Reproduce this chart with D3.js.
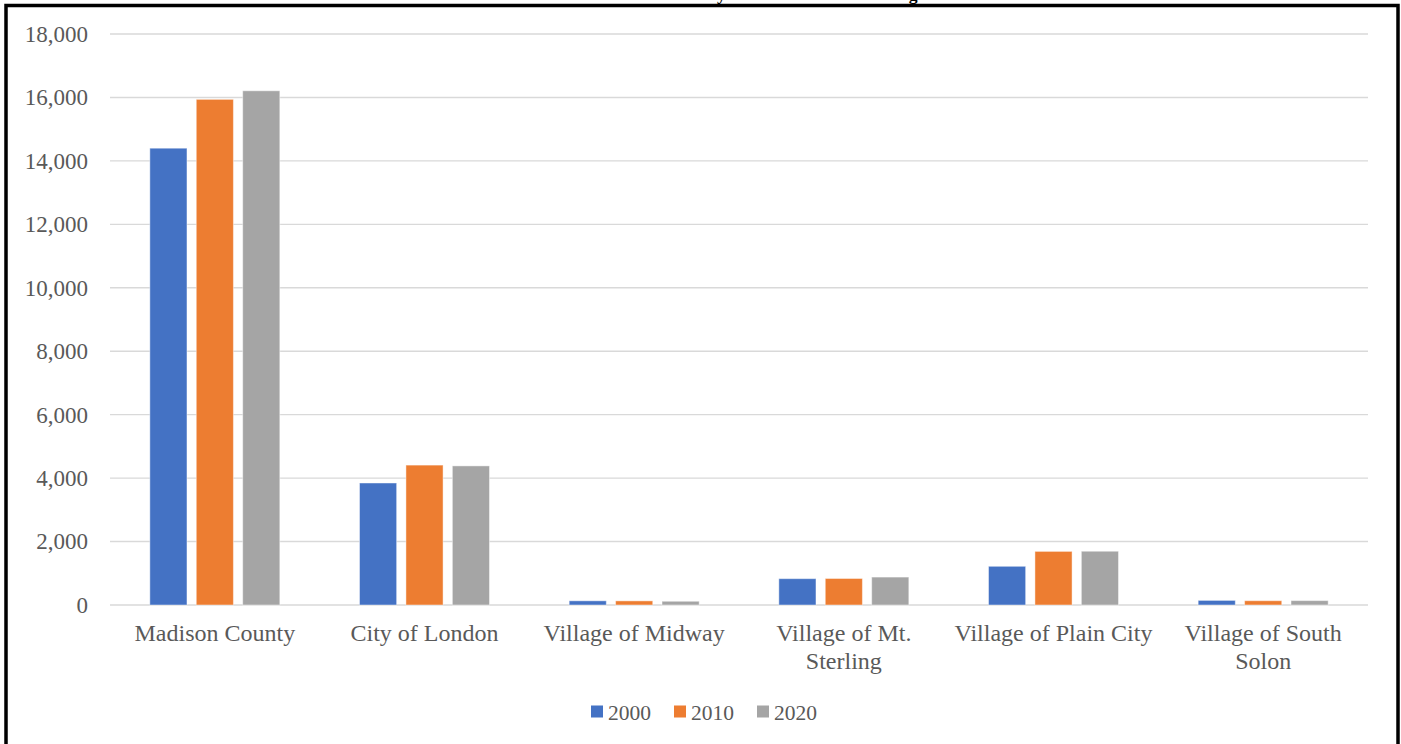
<!DOCTYPE html>
<html>
<head>
<meta charset="utf-8">
<script src="https://cdn.jsdelivr.net/npm/d3@7"></script>
<style>
  html, body { margin: 0; padding: 0; background: #fff; }
  svg { display: block; }
  text { font-family: "Liberation Serif", "Times New Roman", serif; }
</style>
</head>
<body>
<svg id="chart" width="1401" height="744"></svg>
<script>
// Housing units by jurisdiction, Madison County
const categories = [
  ["Madison County"],
  ["City of London"],
  ["Village of Midway"],
  ["Village of Mt.", "Sterling"],
  ["Village of Plain City"],
  ["Village of South", "Solon"]
];
const seriesNames = ["2000", "2010", "2020"];
const values2000 = [14400, 3846, 132, 830, 1220, 145];
const values2010 = [15940, 4410, 130, 836, 1690, 135];
const values2020 = [16210, 4385, 118, 880, 1695, 138];
const yTicks = [0, 2000, 4000, 6000, 8000, 10000, 12000, 14000, 16000, 18000];
const colors = ["#4472C4", "#ED7D31", "#A5A5A5"];
const titleText = "Madison County Households and Housing Units";

const series = [values2000, values2010, values2020];
const catKeys = categories.map(c => c.join(" "));

const svg = d3.select("#chart");
const plot = { left: 110, right: 1368, top: 34, bottom: 605 };

const y = d3.scaleLinear().domain([0, 18000]).range([plot.bottom, plot.top]);
const x0 = d3.scaleBand().domain(catKeys).range([plot.left, plot.right])
  .paddingInner(0.38).paddingOuter(0.19);
const x1 = d3.scaleBand().domain(seriesNames).range([0, x0.bandwidth()])
  .paddingInner(0.2).paddingOuter(0);

// Gridlines
svg.append("g")
  .selectAll("line")
  .data(yTicks)
  .join("line")
  .attr("x1", plot.left).attr("x2", plot.right)
  .attr("y1", d => y(d)).attr("y2", d => y(d))
  .attr("stroke", "#d9d9d9").attr("stroke-width", 1.4);

// Y axis labels
const fmt = d3.format(",");
const yAxis = d3.axisLeft(y).tickValues(yTicks).tickFormat(fmt).tickSize(0).tickPadding(0);
const yg = svg.append("g").attr("transform", "translate(88,0)").call(yAxis);
yg.select(".domain").remove();
yg.selectAll("text")
  .attr("font-family", "Liberation Serif, serif")
  .attr("font-size", 23)
  .attr("fill", "#595959");

// Bars
const groups = svg.append("g")
  .selectAll("g")
  .data(catKeys)
  .join("g")
  .attr("transform", d => `translate(${x0(d)},0)`);

groups.selectAll("rect")
  .data((d, i) => seriesNames.map((s, j) => ({ s, v: series[j][i], c: colors[j] })))
  .join("rect")
  .attr("x", d => x1(d.s))
  .attr("width", x1.bandwidth())
  .attr("y", d => y(d.v))
  .attr("height", d => y(0) - y(d.v))
  .attr("fill", d => d.c)
  .attr("stroke", "#ffffff")
  .attr("stroke-opacity", 0.45)
  .attr("stroke-width", 1);

// Category labels
const xAxisG = svg.append("g");
categories.forEach((lines, i) => {
  const cx = x0(catKeys[i]) + x0.bandwidth() / 2;
  const t = xAxisG.append("text")
    .attr("x", cx)
    .attr("y", 641)
    .attr("text-anchor", "middle")
    .attr("font-size", 24)
    .attr("fill", "#595959");
  lines.forEach((ln, k) => {
    t.append("tspan")
      .attr("x", cx)
      .attr("dy", k === 0 ? 0 : 28)
      .text(ln);
  });
});

// Legend
const legendX = [591, 674, 757];
const legend = svg.append("g");
seriesNames.forEach((s, i) => {
  legend.append("rect")
    .attr("x", legendX[i]).attr("y", 705.5)
    .attr("width", 12).attr("height", 12)
    .attr("fill", colors[i]);
  legend.append("text")
    .attr("x", legendX[i] + 17).attr("y", 720)
    .attr("font-size", 21.5)
    .attr("fill", "#595959")
    .text(s);
});

// Title (sits above the frame's top edge)
const title = svg.append("text")
  .attr("x", 0).attr("y", 0)
  .attr("font-weight", "bold")
  .attr("font-size", 20)
  .attr("fill", "#000")
  .text(titleText);
const iy = titleText.indexOf("y");
const ig = titleText.lastIndexOf("g");
const node = title.node();
let dist = node.getStartPositionOfChar(ig).x - node.getStartPositionOfChar(iy).x;
title.attr("font-size", 20 * 192 / dist);
const py = node.getStartPositionOfChar(iy).x;
title.attr("x", 717 - py);

// Frame
svg.append("rect")
  .attr("x", 6).attr("y", 5.5)
  .attr("width", 1392).attr("height", 800)
  .attr("fill", "none")
  .attr("stroke", "#000")
  .attr("stroke-width", 3.5);
</script>
</body>
</html>
